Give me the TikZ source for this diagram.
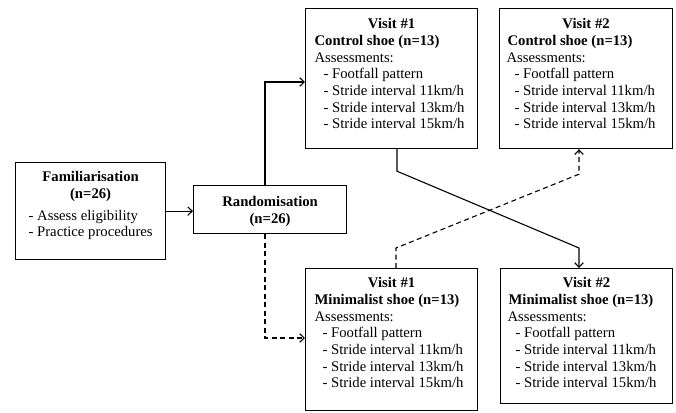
\documentclass[tikz,border=0pt]{standalone}
\usepackage{fontspec}
\setmainfont{Liberation Serif}
\usetikzlibrary{arrows.meta,calc}
\tikzset{
  box/.style={draw, line width=1.2pt, inner sep=0pt, anchor=north west},
  arr/.style={line width=1.1pt, -{Straight Barb[length=4.5pt,width=8.5pt]}},
  dsh/.style={dash pattern=on 5pt off 3.5pt}
}
\newcommand{\fs}{\fontsize{14.7}{16.7}\selectfont}
\newcommand{\firstln}{\rule{0pt}{20pt}}
\begin{document}
\begin{tikzpicture}[x=1pt,y=-1pt]
\fill[white] (0,0) rectangle (676,412);
\useasboundingbox (0,0) rectangle (676,412);

\node[box] (fam) at (15,162) {\parbox[b][97pt][t]{150pt}{\raggedright\fs
\rule{0pt}{19pt}\makebox[150pt]{\bfseries Familiarisation}\\
\makebox[150pt]{\bfseries (n=26)}\\[5pt]
\hspace*{13pt}- Assess eligibility\\
\hspace*{13pt}- Practice procedures}};

\node[box] (rand) at (193,185) {\parbox[b][48pt][t]{153pt}{\raggedright\fs
\rule{0pt}{21pt}\makebox[153pt]{\bfseries Randomisation}\\
\makebox[153pt]{\bfseries (n=26)}}};

\node[box] (v1c) at (305,8) {\parbox[b][140pt][t]{172pt}{\raggedright\fs
\firstln\makebox[172pt]{\bfseries Visit \#1}\\
\hspace*{9pt}\textbf{Control shoe (n=13)}\\
\hspace*{9pt}Assessments:\\
\hspace*{18pt}- Footfall pattern\\
\hspace*{18pt}- Stride interval 11km/h\\
\hspace*{18pt}- Stride interval 13km/h\\
\hspace*{18pt}- Stride interval 15km/h}};

\node[box] (v2c) at (499,8) {\parbox[b][140pt][t]{173pt}{\raggedright\fs
\firstln\makebox[173pt]{\bfseries Visit \#2}\\
\hspace*{8pt}\textbf{Control shoe (n=13)}\\
\hspace*{7pt}Assessments:\\
\hspace*{15pt}- Footfall pattern\\
\hspace*{15pt}- Stride interval 11km/h\\
\hspace*{15pt}- Stride interval 13km/h\\
\hspace*{15pt}- Stride interval 15km/h}};

\node[box] (v1m) at (305,268) {\parbox[b][142pt][t]{172pt}{\raggedright\fs
\rule{0pt}{19pt}\makebox[172pt]{\bfseries Visit \#1}\\
\hspace*{9pt}\textbf{Minimalist shoe (n=13)}\\
\hspace*{9pt}Assessments:\\
\hspace*{17pt}- Footfall pattern\\
\hspace*{17pt}- Stride interval 11km/h\\
\hspace*{17pt}- Stride interval 13km/h\\
\hspace*{17pt}- Stride interval 15km/h}};

\node[box] (v2m) at (500,268) {\parbox[b][135pt][t]{172pt}{\raggedright\fs
\rule{0pt}{19pt}\makebox[172pt]{\bfseries Visit \#2}\\
\hspace*{8pt}\textbf{Minimalist shoe (n=13)}\\
\hspace*{7pt}Assessments:\\
\hspace*{15pt}- Footfall pattern\\
\hspace*{15pt}- Stride interval 11km/h\\
\hspace*{15pt}- Stride interval 13km/h\\
\hspace*{15pt}- Stride interval 15km/h}};

\draw[arr] (fam.east) -- (fam.east -| rand.west);
\draw[arr] ($(rand.north west)+(72,0)$) |- ($(v1c.north west)+(0,74)$);
\draw[arr,dsh] ($(rand.south west)+(72,0)$) |- ($(v1m.north west)+(0,70)$);
\draw[arr] ($(v1c.south west)+(92,0)$) -- ++(0,22) -- ($(v2m.north west)+(79,-20)$) -- ($(v2m.north west)+(79,0)$);
\draw[arr,dsh] ($(v1m.north west)+(91,0)$) -- ++(0,-20) -- ($(v2c.south west)+(80,25)$) -- ($(v2c.south west)+(80,0)$);
\end{tikzpicture}
\end{document}
